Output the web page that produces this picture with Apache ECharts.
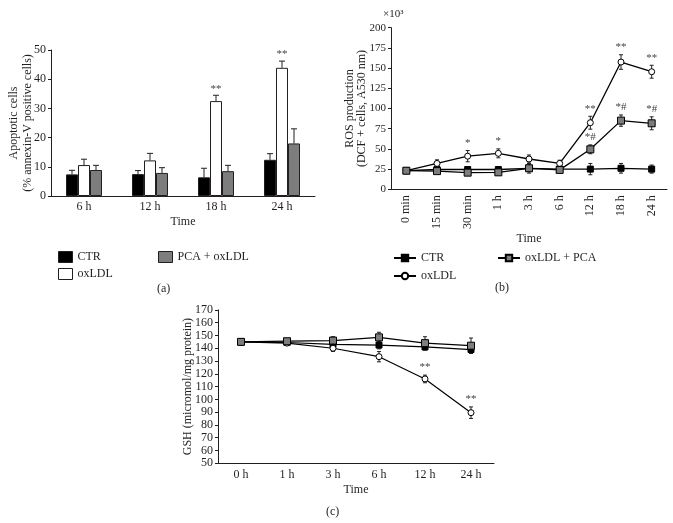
<!DOCTYPE html>
<html>
<head>
<meta charset="utf-8">
<script src="https://cdn.jsdelivr.net/npm/echarts@6/dist/echarts.min.js"></script>
<style>
html,body{margin:0;padding:0;background:#fff;}
.p{position:absolute;}
</style>
</head>
<body>
<div id="pa" class="p" style="left:0;top:0;width:340px;height:300px"></div>
<div id="pb" class="p" style="left:340px;top:0;width:333px;height:300px"></div>
<div id="pc" class="p" style="left:0;top:300px;width:673px;height:223px"></div>
<script>
// ---------- Panel (a): apoptotic cells ----------
const aCategories = ['6 h', '12 h', '18 h', '24 h'];
const aCTR = [7.4, 7.5, 6.4, 12.4];
const aCTRErr = [1.4, 1.2, 3.1, 2.1];
const aOx = [10.6, 12.2, 32.5, 43.9];
const aOxErr = [2.0, 2.4, 2.0, 2.3];
const aPCA = [8.9, 7.9, 8.5, 18.0];
const aPCAErr = [1.6, 1.8, 2.0, 5.0];
const aOxMarks = ['', '', '**', '**'];
const aYTicks = [0, 50, 10];

// ---------- Panel (b): ROS production (x10^3) ----------
const bCategories = ['0 min', '15 min', '30 min', '1 h', '3 h', '6 h', '12 h', '18 h', '24 h'];
const bCTR = [23, 24.5, 24.5, 24.5, 26, 25, 25, 26, 25];
const bCTRErr = [2, 3, 3, 3, 6, 3, 7, 6, 5];
const bOx = [23, 32, 41, 44.5, 37.5, 32, 82.4, 157.5, 145.5];
const bOxErr = [2, 4.5, 7, 5.5, 5, 4, 8, 9, 8];
const bPCA = [23, 22.5, 20.6, 21, 26, 24, 49.5, 85, 81.7];
const bPCAErr = [2, 3, 3, 3, 4, 3, 5.5, 7, 8];
const bOxMarks = ['', '', '*', '*', '', '', '**', '**', '**'];
const bPCAMarks = ['', '', '', '', '', '', '*#', '*#', '*#'];
const bYTicks = [0, 200, 25];

// ---------- Panel (c): GSH ----------
const cCategories = ['0 h', '1 h', '3 h', '6 h', '12 h', '24 h'];
const cCTR = [145, 144.5, 143, 142.5, 141, 139];
const cCTRErr = [1, 1.5, 3, 3, 2.5, 3];
const cOx = [145, 144, 140, 133.4, 116, 89.6];
const cOxErr = [1, 1.5, 2.5, 4, 3, 4.5];
const cPCA = [145, 145.5, 146, 148.5, 144, 142];
const cPCAErr = [1, 1.5, 3, 4, 5, 6];
const cOxMarks = ['', '', '', '', '**', '**'];
const cYTicks = [50, 170, 10];

const FONT = '"Liberation Serif", "DejaVu Serif", serif';
const INK = '#231f20';
const GREY = '#7d7d7d';
const txt = (size) => ({ fontFamily: FONT, color: INK, fontSize: size || 12 });

function toData(vals, errs) { return vals.map((v, i) => [i, v, errs[i]]); }

// error bar for bars: upward only, with cap, offset within group
function barErr(offset, marks) {
  return function (params, api) {
    const i = api.value(0), v = api.value(1), e = api.value(2);
    const p0 = api.coord([i, v]);
    const p1 = api.coord([i, v + e]);
    const x = p0[0] + offset;
    const children = [
      { type: 'line', shape: { x1: x, y1: p0[1], x2: x, y2: p1[1] }, style: { stroke: INK, lineWidth: 1 } },
      { type: 'line', shape: { x1: x - 3, y1: p1[1], x2: x + 3, y2: p1[1] }, style: { stroke: INK, lineWidth: 1 } }
    ];
    const m = marks ? marks[params.dataIndex] : '';
    if (m) {
      children.push({ type: 'text', style: { text: m, x: x, y: p1[1] - 1, align: 'center', verticalAlign: 'bottom', fontFamily: FONT, fontSize: 11, fill: '#444' } });
    }
    return { type: 'group', children: children };
  };
}

// symmetric error bar for line points
function lineErr(marks) {
  return function (params, api) {
    const i = api.value(0), v = api.value(1), e = api.value(2);
    const pt = api.coord([i, v + e]);
    const pb = api.coord([i, v - e]);
    const x = pt[0];
    const children = [
      { type: 'line', shape: { x1: x, y1: pt[1], x2: x, y2: pb[1] }, style: { stroke: INK, lineWidth: 1 } },
      { type: 'line', shape: { x1: x - 2, y1: pt[1], x2: x + 2, y2: pt[1] }, style: { stroke: INK, lineWidth: 1 } },
      { type: 'line', shape: { x1: x - 2, y1: pb[1], x2: x + 2, y2: pb[1] }, style: { stroke: INK, lineWidth: 1 } }
    ];
    const m = marks ? marks[params.dataIndex] : '';
    if (m) {
      children.push({ type: 'text', style: { text: m, x: x, y: pt[1] - 2, align: 'center', verticalAlign: 'bottom', fontFamily: FONT, fontSize: 11, fill: '#444' } });
    }
    return { type: 'group', children: children };
  };
}

const axisLine = { show: true, lineStyle: { color: INK, width: 1 } };

// ================= Panel A =================
const chartA = echarts.init(document.getElementById('pa'), null, { renderer: 'canvas' });
const BW = 12;
chartA.setOption({
  animation: false,
  backgroundColor: '#fff',
  grid: { left: 51, top: 50, width: 264, height: 146, outerBoundsMode: 'none', containLabel: false },
  xAxis: {
    type: 'category', data: aCategories,
    axisLine: axisLine, axisTick: { show: false },
    axisLabel: Object.assign(txt(12), { margin: 5 }),
    name: 'Time', nameLocation: 'middle', nameGap: 20, nameMoveOverlap: false, nameTextStyle: txt(12)
  },
  yAxis: {
    type: 'value', min: aYTicks[0], max: aYTicks[1], interval: aYTicks[2],
    axisLine: axisLine, axisTick: { show: true, length: 3, lineStyle: { color: INK } },
    splitLine: { show: false },
    axisLabel: Object.assign(txt(12), { margin: 5 }),
    name: 'Apoptotic cells\n(% annexin-V positive cells)', nameLocation: 'middle', nameGap: 16, nameMoveOverlap: false,
    nameTextStyle: Object.assign(txt(12), { lineHeight: 14 })
  },
  legend: [
    { left: 53, top: 246, orient: 'vertical', itemWidth: 14, itemHeight: 11, itemGap: 5, icon: 'rect',
      data: ['CTR', 'oxLDL'], textStyle: txt(12), itemStyle: { borderColor: INK, borderWidth: 1 }, selectedMode: false },
    { left: 153, top: 246, orient: 'vertical', itemWidth: 14, itemHeight: 11, icon: 'rect',
      data: ['PCA + oxLDL'], textStyle: txt(12), itemStyle: { borderColor: INK, borderWidth: 1 }, selectedMode: false }
  ],
  graphic: [
    { type: 'text', left: 157, top: 283, style: { text: '(a)', font: '12px ' + FONT, fill: INK } }
  ],
  series: [
    { name: 'CTR', type: 'bar', data: aCTR, barWidth: BW, barGap: '0%', itemStyle: { color: '#000', borderColor: INK, borderWidth: 1 } },
    { name: 'oxLDL', type: 'bar', data: aOx, barWidth: BW, barGap: '0%', itemStyle: { color: '#fff', borderColor: INK, borderWidth: 1 } },
    { name: 'PCA + oxLDL', type: 'bar', data: aPCA, barWidth: BW, barGap: '0%', itemStyle: { color: GREY, borderColor: INK, borderWidth: 1 } },
    { type: 'custom', renderItem: barErr(-BW, null), data: toData(aCTR, aCTRErr), z: 3, silent: true },
    { type: 'custom', renderItem: barErr(0, aOxMarks), data: toData(aOx, aOxErr), z: 3, silent: true },
    { type: 'custom', renderItem: barErr(BW, null), data: toData(aPCA, aPCAErr), z: 3, silent: true }
  ]
});

// ================= Panel B =================
const chartB = echarts.init(document.getElementById('pb'), null, { renderer: 'canvas' });
const symCTR = { symbol: 'rect', symbolSize: 6, itemStyle: { color: '#000', borderColor: '#000', borderWidth: 1 } };
const symOx = { symbol: 'circle', symbolSize: 6, itemStyle: { color: '#fff', borderColor: '#000', borderWidth: 1 } };
const symPCA = { symbol: 'rect', symbolSize: 7, itemStyle: { color: GREY, borderColor: '#000', borderWidth: 1 } };
function lineSeries(name, data, sym, width) {
  return Object.assign({ name: name, type: 'line', data: data, z: 3,
    lineStyle: { color: '#000', width: width || 1.3 }, showSymbol: true }, sym);
}
chartB.setOption({
  animation: false,
  backgroundColor: '#fff',
  grid: { left: 51, top: 27.7, width: 276, height: 161.6, outerBoundsMode: 'none', containLabel: false },
  xAxis: {
    type: 'category', data: bCategories,
    axisLine: axisLine, axisTick: { show: false },
    axisLabel: Object.assign(txt(12), { rotate: 90, margin: 6, interval: 0 }),
    name: 'Time', nameLocation: 'middle', nameGap: 44, nameMoveOverlap: false, nameTextStyle: txt(12)
  },
  yAxis: {
    type: 'value', min: bYTicks[0], max: bYTicks[1], interval: bYTicks[2],
    axisLine: axisLine, axisTick: { show: true, length: 3, lineStyle: { color: INK } },
    splitLine: { show: false },
    axisLabel: Object.assign(txt(11), { margin: 5 }),
    name: 'ROS production\n(DCF + cells, A530 nm)', nameLocation: 'middle', nameGap: 23, nameMoveOverlap: false,
    nameTextStyle: Object.assign(txt(12), { lineHeight: 12 })
  },
  legend: [
    { left: 48, top: 247, orient: 'vertical', itemWidth: 22, itemHeight: 8, itemGap: 6,
      data: ['CTR', 'oxLDL'], textStyle: txt(12), selectedMode: false },
    { left: 152, top: 247, orient: 'vertical', itemWidth: 22, itemHeight: 8,
      data: ['oxLDL + PCA'], textStyle: txt(12), selectedMode: false }
  ],
  graphic: [
    { type: 'text', left: 43, top: 9, style: { text: '×10³', font: '11px ' + FONT, fill: INK } },
    { type: 'text', left: 155, top: 282, style: { text: '(b)', font: '12px ' + FONT, fill: INK } }
  ],
  series: [
    { type: 'custom', renderItem: lineErr(null), data: toData(bCTR, bCTRErr), z: 1, silent: true },
    { type: 'custom', renderItem: lineErr(bOxMarks), data: toData(bOx, bOxErr), z: 1, silent: true },
    { type: 'custom', renderItem: lineErr(bPCAMarks), data: toData(bPCA, bPCAErr), z: 1, silent: true },
    lineSeries('CTR', bCTR, symCTR),
    lineSeries('oxLDL', bOx, symOx),
    lineSeries('oxLDL + PCA', bPCA, symPCA)
  ]
});

// ================= Panel C =================
const chartC = echarts.init(document.getElementById('pc'), null, { renderer: 'canvas' });
chartC.setOption({
  animation: false,
  backgroundColor: '#fff',
  grid: { left: 218, top: 9.9, width: 276, height: 153.4, outerBoundsMode: 'none', containLabel: false },
  xAxis: {
    type: 'category', data: cCategories,
    axisLine: axisLine, axisTick: { show: false },
    axisLabel: Object.assign(txt(12), { margin: 6 }),
    name: 'Time', nameLocation: 'middle', nameGap: 21, nameMoveOverlap: false, nameTextStyle: txt(12)
  },
  yAxis: {
    type: 'value', min: cYTicks[0], max: cYTicks[1], interval: cYTicks[2],
    axisLine: axisLine, axisTick: { show: true, length: 3, lineStyle: { color: INK } },
    splitLine: { show: false },
    axisLabel: Object.assign(txt(12), { margin: 5 }),
    name: 'GSH (micromol/mg protein)', nameLocation: 'middle', nameGap: 24, nameMoveOverlap: false,
    nameTextStyle: txt(12)
  },
  graphic: [
    { type: 'text', left: 326, top: 206, style: { text: '(c)', font: '12px ' + FONT, fill: INK } }
  ],
  series: [
    { type: 'custom', renderItem: lineErr(null), data: toData(cCTR, cCTRErr), z: 1, silent: true },
    { type: 'custom', renderItem: lineErr(cOxMarks), data: toData(cOx, cOxErr), z: 1, silent: true },
    { type: 'custom', renderItem: lineErr(null), data: toData(cPCA, cPCAErr), z: 1, silent: true },
    lineSeries('CTR', cCTR, symCTR, 1.2),
    lineSeries('oxLDL', cOx, symOx, 1.2),
    lineSeries('oxLDL + PCA', cPCA, symPCA, 1.2)
  ]
});
</script>
</body>
</html>
